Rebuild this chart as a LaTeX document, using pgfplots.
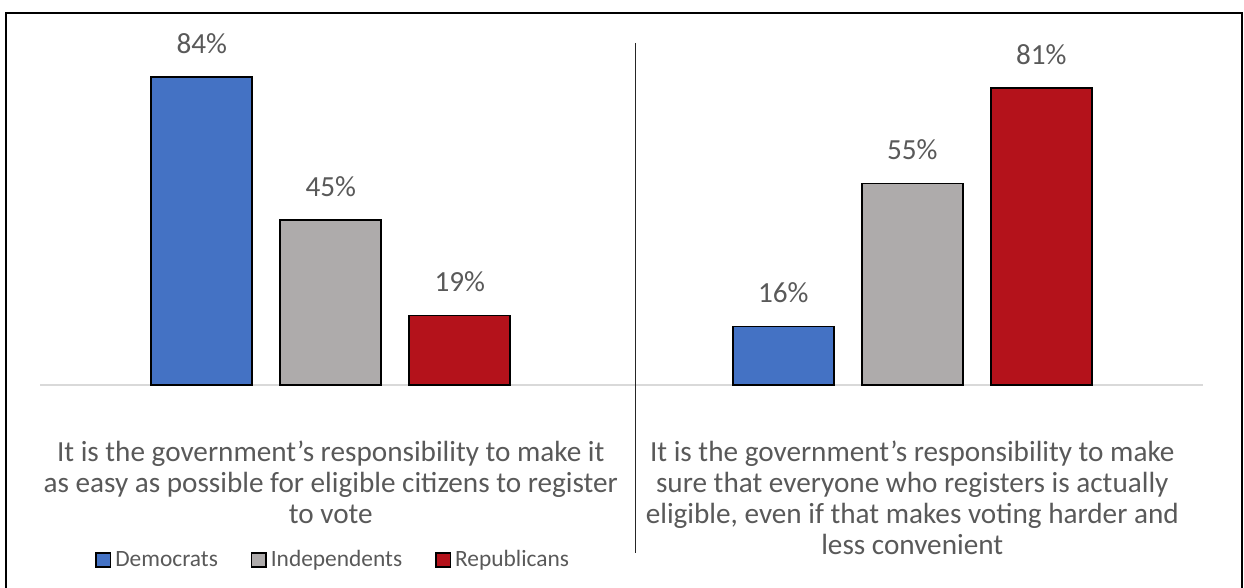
\documentclass[border=0pt]{standalone}
\usepackage{fontspec}
\setmainfont{Carlito}
\usepackage{pgfplots}
\pgfplotsset{compat=1.18}
\definecolor{dem}{HTML}{4472C4}
\definecolor{ind}{HTML}{AEABAB}
\definecolor{rep}{HTML}{B4121B}
\definecolor{txt}{HTML}{595959}
\definecolor{axgray}{HTML}{D9D9D9}
\begin{document}
\begin{tikzpicture}[x=1pt,y=1pt]
\useasboundingbox (0,0) rectangle (622,294);
\begin{scope}
\clip (0,0) rectangle (622,294);
\draw[line width=1pt] (3,-5) -- (3,287.5) -- (621,287.5) -- (621,-5);
\end{scope}
\begin{axis}[
  at={(20pt,101.5pt)}, anchor=south west,
  scale only axis, width=581.5pt, height=172.3pt,
  xmin=-0.5, xmax=1.5, ymin=0, ymax=94,
  axis y line=none,
  axis x line*=bottom,
  x axis line style={draw=axgray, line width=0.85pt, -},
  xtick={0,1}, major tick length=0pt,
  xticklabels={{It is the government’s responsibility to make it\\as easy as possible for eligible citizens to register\\to vote},
               {It is the government’s responsibility to make\\sure that everyone who registers is actually\\eligible, even if that makes voting harder and\\less convenient}},
  xticklabel style={align=center, text=txt, font=\fontsize{14.6}{15.5}\selectfont, anchor=north, yshift=-24.5pt},
  ybar=14pt, bar width=50.5pt,
  nodes near coords={\pgfmathprintnumber[assume math mode=true]{\pgfplotspointmeta}\%},
  every node near coord/.append style={text=txt, font=\fontsize{14.6}{17}\selectfont, yshift=8pt},
  legend columns=3,
  legend style={at={(0.0473,-0.508)}, anchor=west, draw=none, fill=none,
    font=\fontsize{11.7}{14}\selectfont, text=txt, inner sep=0pt,
    /tikz/every even column/.append style={column sep=14.5pt}},
  legend image code/.code={\draw[#1, draw=black, line width=0.75pt] (0pt,-3.6pt) rectangle (7.2pt,3.6pt);},
  clip=false,
]
\addplot[fill=dem, draw=black, line width=0.8pt] coordinates {(0,84) (1,16)};
\addplot[fill=ind, draw=black, line width=0.8pt] coordinates {(0,45) (1,55)};
\addplot[fill=rep, draw=black, line width=0.8pt] coordinates {(0,19) (1,81)};
\legend{Democrats, Independents, Republicans}
\end{axis}
\draw[black!85, line width=0.5pt] (317.5,272.5) -- (317.5,17.5);
\end{tikzpicture}
\end{document}
